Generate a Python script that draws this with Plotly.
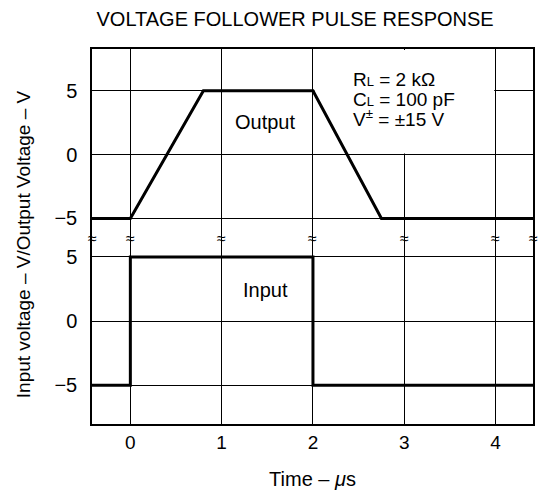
import plotly.graph_objects as go

# Data
out_t = [-0.42, 0.0, 0.8, 2.0, 2.75, 4.41]
out_v = [-5, -5, 5, 5, -5, -5]
in_t = [-0.42, 0.0, 0.0, 2.0, 2.0, 4.41]
in_v = [-5, -5, 5, 5, -5, -5]
x_ticks = [0, 1, 2, 3, 4]
y_ticks = [-5, 0, 5]
break_x = [-0.42, 0, 1, 2, 3, 4, 4.41]
cond_lines = ["R<span style='font-size:13px'>L</span> = 2 kΩ",
              "C<span style='font-size:13px'>L</span> = 100 pF",
              "V<sup>±</sup> = ±15 V"]
cond_y = [5.9, 4.35, 2.85]

FONT = "Liberation Sans, Arial, Helvetica, sans-serif"
split = 0.4956
xr = [-0.42, 4.41]

fig = go.Figure()
fig.add_trace(go.Scatter(x=out_t, y=out_v, mode="lines", xaxis="x2", yaxis="y2",
                         line=dict(color="black", width=3), showlegend=False,
                         cliponaxis=False))
fig.add_trace(go.Scatter(x=in_t, y=in_v, mode="lines", xaxis="x", yaxis="y",
                         line=dict(color="black", width=3), showlegend=False,
                         cliponaxis=False))

common_x = dict(range=xr, tickvals=x_ticks, showgrid=True, gridcolor="black",
                gridwidth=1, zeroline=False, ticks="", linecolor="black",
                linewidth=1.5, showline=True, tickfont=dict(size=19))
common_y = dict(tickvals=y_ticks, showgrid=True, gridcolor="black", gridwidth=1,
                zeroline=False, ticks="", linecolor="black", linewidth=1.5,
                showline=True, mirror=True, ticklabelstandoff=9, tickfont=dict(size=20))

fig.update_layout(
    width=550, height=493,
    margin=dict(l=84, r=25, t=41, b=77),
    paper_bgcolor="white", plot_bgcolor="white",
    font=dict(family=FONT, size=18, color="black"),
    title=dict(text="VOLTAGE FOLLOWER PULSE RESPONSE", x=0.522, xanchor="center",
               y=0.978, yanchor="middle", font=dict(size=20)),
    xaxis=dict(**common_x, anchor="y", domain=[0, 1],
               title=dict(text="Time – <i>μ</i>s", standoff=20, font=dict(size=20))),
    xaxis2=dict(**common_x, anchor="y2", matches="x", showticklabels=False, side="top"),
    yaxis=dict(**common_y, range=[-8.02, 6.46], domain=[0, split]),
    yaxis2=dict(**common_y, range=[-6.54, 8.27], domain=[split, 1]),
    shapes=[dict(type="rect", xref="x2", yref="y2", x0=2.015, x1=3.985, y0=0.08, y1=8.2,
                 fillcolor="white", line=dict(width=0), layer="between")],
)

ann = [
    dict(x=1.48, y=2.57, xref="x2", yref="y2", text="Output", showarrow=False,
         font=dict(size=20)),
    dict(x=1.48, y=2.4, xref="x", yref="y", text="Input", showarrow=False,
         font=dict(size=20)),
    dict(x=-0.156, y=0.48, xref="paper", yref="paper", xanchor="center", yanchor="middle",
         text="Input voltage – V/Output Voltage – V",
         textangle=-90, showarrow=False, font=dict(size=19)),
]
for t, cy in zip(cond_lines, cond_y):
    ann.append(dict(x=2.42, y=cy, xref="x2", yref="y2", xanchor="left", yanchor="middle",
                    text=t, showarrow=False, font=dict(size=19)))
for bx in break_x:
    ann.append(dict(x=bx, y=split, xref="x", yref="paper", text="≈", showarrow=False,
                    font=dict(size=16)))
fig.update_layout(annotations=ann)

fig.write_html("out.html")
